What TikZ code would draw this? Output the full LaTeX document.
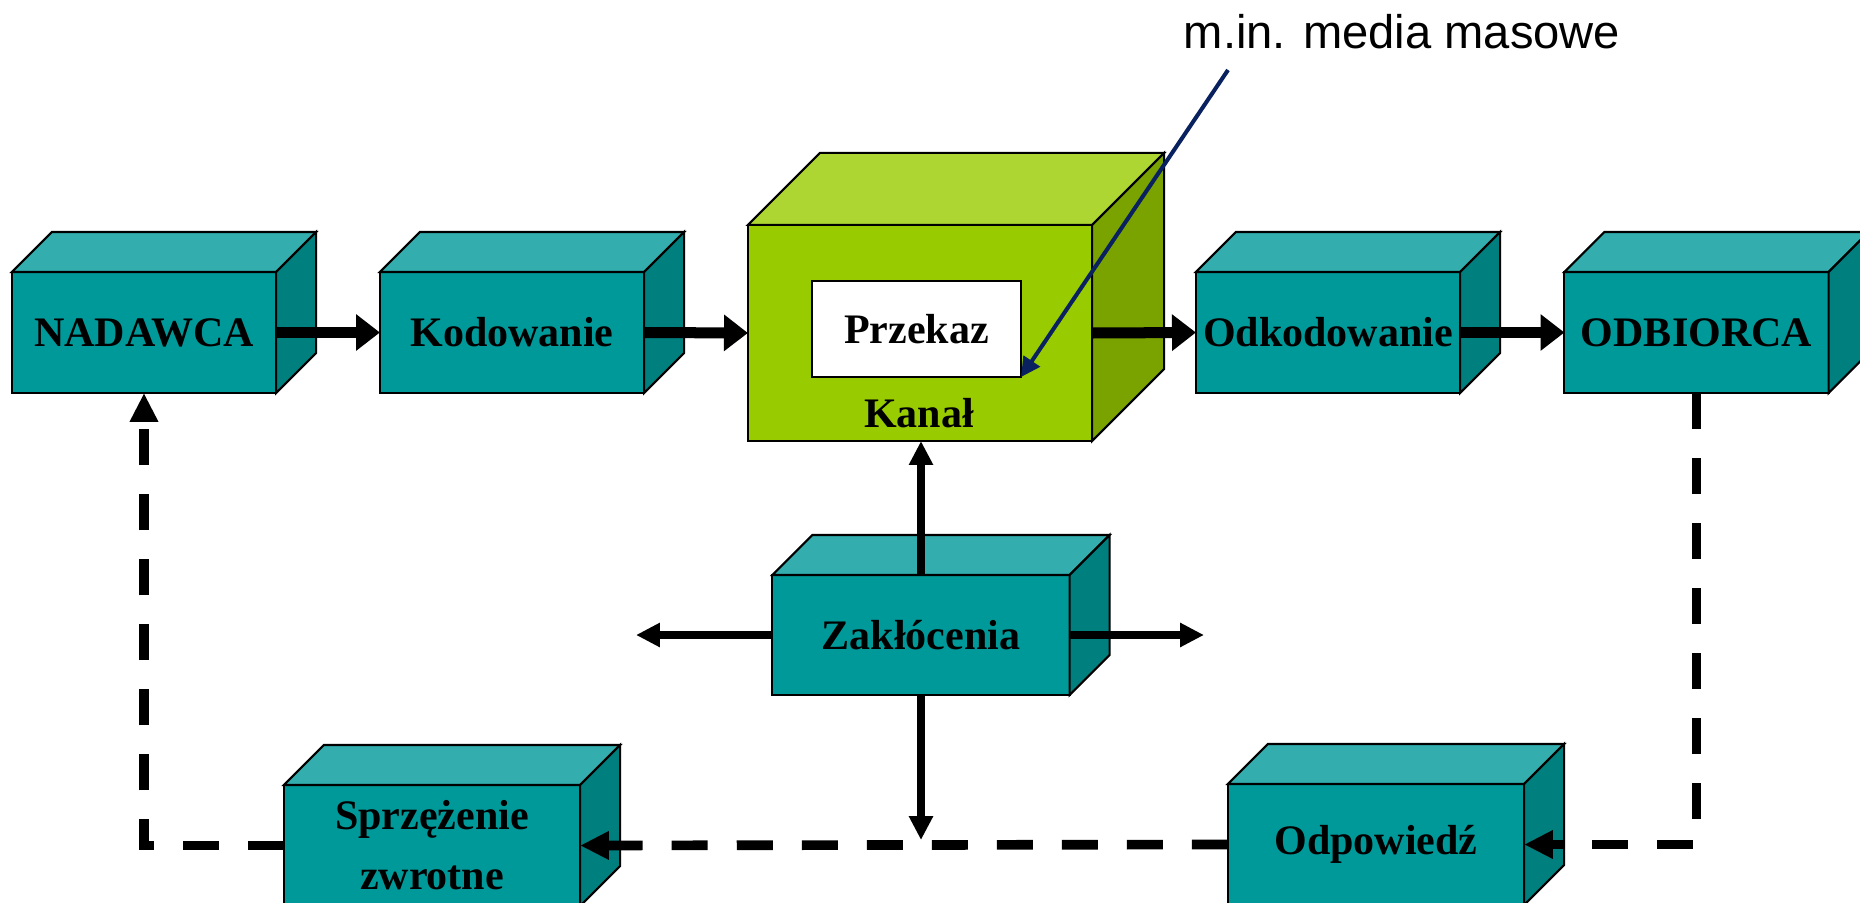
\documentclass[tikz,border=0pt]{standalone}
\usepackage{fontspec}
\setmainfont{Liberation Serif}
\newfontfamily\arialfont{Liberation Sans}
\usetikzlibrary{arrows.meta}
\definecolor{tealfront}{HTML}{009999}
\definecolor{tealtop}{HTML}{33ADAD}
\definecolor{tealside}{HTML}{007F7F}
\definecolor{greenfront}{HTML}{99CC00}
\definecolor{greentop}{HTML}{ADD633}
\definecolor{greenside}{HTML}{7AA300}
\definecolor{navyline}{HTML}{0A2160}
\newcommand\cubetextfont{\bfseries\fontsize{11.95}{17}\selectfont}
\newcommand\cubefaces[4]{%
  \draw[boxline, fill=#3] (#1.north west) -- ++(#2,-#2) -- ([shift={(#2,-#2)}]#1.north east) -- (#1.north east) -- cycle;
  \draw[boxline, fill=#4] (#1.north east) -- ++(#2,-#2) -- ([shift={(#2,-#2)}]#1.south east) -- (#1.south east) -- cycle;
}
\begin{document}
\begin{tikzpicture}[x=0.01cm,y=-0.01cm,
  boxline/.style={draw=black, line width=0.6pt, line join=miter},
  tealbox/.style={boxline, fill=tealfront, inner sep=0pt, outer sep=0pt,
    minimum width=2.64cm, minimum height=1.21cm, font=\cubetextfont, align=center},
  greenbox/.style={boxline, fill=greenfront, inner sep=0pt, outer sep=0pt,
    minimum width=3.44cm, minimum height=2.16cm},
  thickarrow/.style={line width=3.13pt, -{Triangle[length=6.8pt,width=10pt]}},
  midarrow/.style={line width=2.28pt, -{Triangle[length=6.8pt,width=6.5pt]}},
  dasharrow/.style={line width=2.75pt, dash pattern=on 10.24pt off 8.25pt,
    -{Triangle[length=8.2pt,width=7.6pt]}},
  bluearrow/.style={draw=navyline, line width=1.15pt, -{Triangle[length=5.5pt,width=5.5pt]}}
]
\useasboundingbox (0,0) rectangle (1860,903);

% boxes
\node[tealbox] (nadawca) at (144,332.5) {NADAWCA};
\cubefaces{nadawca}{40}{tealtop}{tealside}
\node[tealbox] (kodowanie) at (512,332.5) {Kodowanie};
\cubefaces{kodowanie}{40}{tealtop}{tealside}
\node[greenbox] (kanal) at (920,333) {};
\cubefaces{kanal}{72}{greentop}{greenside}
\node[boxline, fill=white, inner sep=0pt, outer sep=0pt, minimum width=2.09cm,
  minimum height=0.96cm, font=\cubetextfont] (przekaz) at (916.5,329) {Przekaz};
\node[anchor=base, font=\cubetextfont] (kanallabel) at (919,427) {Kanał};
\node[tealbox] (odkodowanie) at (1328,332.5) {Odkodowanie};
\cubefaces{odkodowanie}{40}{tealtop}{tealside}
\node[tealbox] (odbiorca) at (1696.5,332.5) {ODBIORCA};
\cubefaces{odbiorca}{40}{tealtop}{tealside}
\node[tealbox, minimum width=2.97cm, minimum height=1.2cm] (zaklocenia) at (921,635) {Zakłócenia};
\cubefaces{zaklocenia}{40}{tealtop}{tealside}
\node[tealbox, minimum width=2.96cm] (sprzezenie) at (432,845.5) {Sprzężenie\\zwrotne};
\cubefaces{sprzezenie}{40}{tealtop}{tealside}
\node[tealbox, minimum width=2.96cm] (odpowiedz) at (1376,844.5) {Odpowiedź};
\cubefaces{odpowiedz}{40}{tealtop}{tealside}

% media label
\node[anchor=base, font=\arialfont\fontsize{13.4}{16}\selectfont] (media) at (1402,48) {m.in. media masowe};
\coordinate (mediastart) at (1228,70);
\draw[bluearrow] (mediastart) -- (przekaz.south east);

% main flow
\draw[thickarrow] (nadawca.east) -- (kodowanie.west);
\draw[thickarrow] (kodowanie.east) -- (kanal.west);
\draw[thickarrow] (kanal.east) -- (odkodowanie.west);
\draw[thickarrow] (odkodowanie.east) -- (odbiorca.west);

% noise
\coordinate (zakdown) at (921,840);
\coordinate (zakleft) at (636,635);
\coordinate (zakright) at (1204,635);
\draw[midarrow] (zaklocenia.north) -- (zaklocenia.north |- kanal.south);
\draw[midarrow] (zaklocenia.south) -- (zakdown);
\draw[midarrow] (zaklocenia.west) -- (zakleft);
\draw[midarrow] (zaklocenia.east) -- (zakright);

% feedback
\draw[dasharrow] (odbiorca.south) |- (odpowiedz.east);
\draw[dasharrow] (odpowiedz.west) -- (sprzezenie.east);
\draw[dasharrow] (sprzezenie.west) -| (nadawca.south);
\end{tikzpicture}
\end{document}
